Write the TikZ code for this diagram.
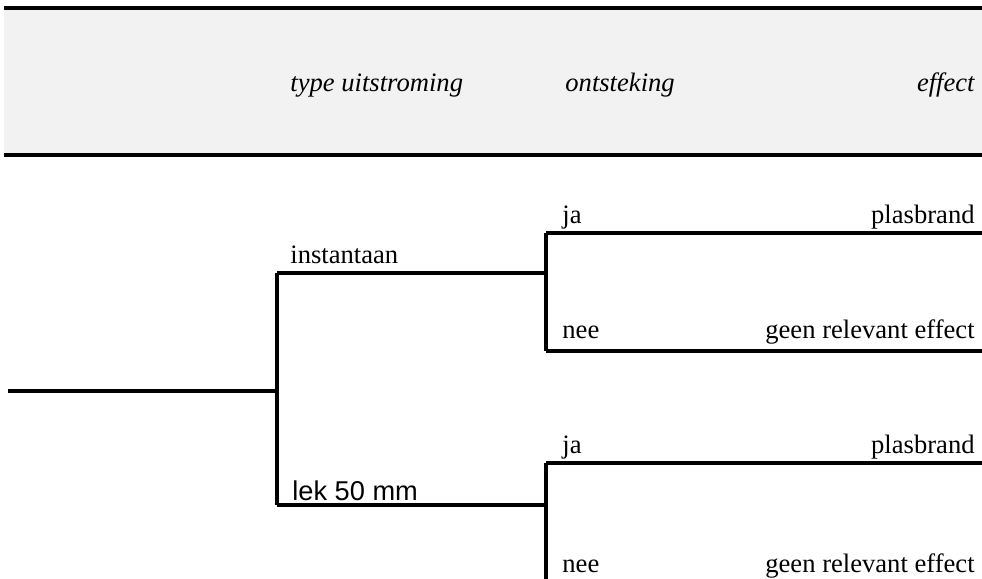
\documentclass[tikz,border=0pt]{standalone}
\usepackage{fontspec}
\setmainfont{Liberation Serif}
\newfontfamily\lekfont{Liberation Sans}
\definecolor{kopgrijs}{HTML}{F2F2F2}
\tikzset{
  tak/.style={line width=1.7pt},
  koplijn/.style={line width=2pt},
  kop/.style={inner sep=0pt, font=\fontsize{13.3}{16}\selectfont\itshape},
  tekst/.style={inner sep=0pt, font=\fontsize{13.3}{16}\selectfont},
}
\begin{document}
\begin{tikzpicture}[x=0.5pt,y=-0.5pt]
			\useasboundingbox (0,0) rectangle (982,579);
			\clip (0,0) rectangle (982,579);
			% kopregel
			\fill[kopgrijs] (4,8) rectangle (982,155);
			\coordinate (kopLB) at (4,8);
			\coordinate (kopRB) at (982,8);
			\coordinate (kopLO) at (4,155);
			\coordinate (kopRO) at (982,155);
			\draw[koplijn] (kopLB) -- (kopRB);
			\draw[koplijn] (kopLO) -- (kopRO);
			\node[kop, anchor=base west] (type) at (290,91) {type uitstroming};
			\node[kop, anchor=base west] (ontsteking) at (565,91) {ontsteking};
			\node[kop, anchor=base east] (effect) at (975,91) {effect};
			% boom
			\coordinate (start) at (8,391);
			\coordinate (split) at (277,391);
			\coordinate (inst) at (277,273);
			\coordinate (lek) at (277,505);
			\coordinate (instknoop) at (546,273);
			\coordinate (lekknoop) at (546,505);
			\coordinate (instja) at (546,233);
			\coordinate (instnee) at (546,351);
			\coordinate (instjaeind) at (982,233);
			\coordinate (instneeeind) at (982,351);
			\coordinate (lekja) at (546,463);
			\coordinate (lekjaeind) at (982,463);
			\coordinate (lekonder) at (546,590);
			\draw[tak] (start) -- (split);
			\draw[tak] (inst) -- (lek);
			\draw[tak] (inst) -- (instknoop);
			\draw[tak] (lek) -- (lekknoop);
			\draw[tak] (instja) -- (instnee);
			\draw[tak] (instja) -- (instjaeind);
			\draw[tak] (instnee) -- (instneeeind);
			\draw[tak] (lekja) -- (lekonder);
			\draw[tak] (lekja) -- (lekjaeind);
			% labels
			\node[tekst, anchor=base west] (instantaan) at (290,263) {instantaan};
			\node[tekst, anchor=base west, font=\fontsize{13.6}{16}\selectfont\lekfont] (lek50) at (292,500) {lek 50 mm};
			\node[tekst, anchor=base west] (ja1) at (562,223) {ja};
			\node[tekst, anchor=base east] (brand1) at (975,223) {plasbrand};
			\node[tekst, anchor=base west] (nee1) at (562,338) {nee};
			\node[tekst, anchor=base east] (geen1) at (975,338) {geen relevant effect};
			\node[tekst, anchor=base west] (ja2) at (562,453) {ja};
			\node[tekst, anchor=base east] (brand2) at (975,453) {plasbrand};
			\node[tekst, anchor=base west] (nee2) at (562,572) {nee};
			\node[tekst, anchor=base east] (geen2) at (975,572) {geen relevant effect};
		\end{tikzpicture}
\end{document}
